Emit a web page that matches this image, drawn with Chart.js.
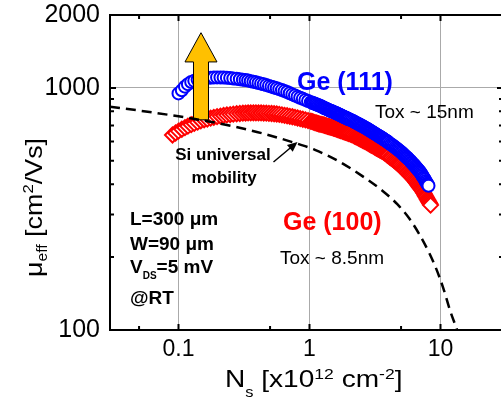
<!DOCTYPE html>
<html>
<head>
<meta charset="utf-8">
<script src="https://cdn.jsdelivr.net/npm/chart.js@4.4.1/dist/chart.umd.min.js"></script>
<style>
  html, body { margin: 0; padding: 0; background: #fff; overflow: hidden; }
  canvas { display: block; }
</style>
</head>
<body>
<canvas id="mob" width="520" height="401"></canvas>
<script>
// --- DATA ---
// sheet carrier density grid shared by both Ge sweeps [x10^12 cm^-2]
const ns = [
  0.090, 0.095, 0.100, 0.106, 0.112, 0.118, 0.125, 0.132, 0.140, 0.148, 0.157,
  0.166, 0.176, 0.186, 0.197, 0.209, 0.221, 0.234, 0.248, 0.262, 0.278, 0.294,
  0.310, 0.325, 0.340, 0.356, 0.373, 0.390, 0.408, 0.427, 0.447, 0.468, 0.490,
  0.513, 0.537, 0.562, 0.588, 0.616, 0.645, 0.675, 0.707, 0.740, 0.775, 0.811,
  0.849, 0.889, 0.931, 0.975,
  1.025, 1.05, 1.075, 1.10, 1.125, 1.15, 1.175, 1.20, 1.225, 1.25,
  1.275, 1.30, 1.325, 1.35, 1.375, 1.40, 1.425, 1.45, 1.475, 1.50,
  1.525, 1.55, 1.575, 1.60, 1.625, 1.65, 1.675, 1.70, 1.725, 1.75,
  1.775, 1.80, 1.825, 1.85, 1.875, 1.90, 1.925, 1.95, 1.975, 2.00,
  2.05, 2.10, 2.15, 2.20, 2.25, 2.30, 2.35, 2.40, 2.45, 2.50,
  2.55, 2.60, 2.65, 2.70, 2.75, 2.80, 2.85, 2.90, 2.95, 3.00,
  3.05, 3.10, 3.15, 3.20, 3.25, 3.30, 3.35, 3.40, 3.45, 3.50,
  3.55, 3.60, 3.65, 3.70, 3.75, 3.80, 3.85, 3.90, 3.95, 4.00,
  4.1, 4.2, 4.3, 4.4, 4.5, 4.6, 4.7, 4.8, 4.9, 5.0,
  5.1, 5.2, 5.3, 5.4, 5.5, 5.6, 5.7, 5.8, 5.9, 6.0,
  6.1, 6.2, 6.3, 6.4, 6.5, 6.6, 6.7, 6.8, 6.9, 7.0,
  7.1, 7.2, 7.3, 7.4, 7.5, 7.6, 7.7, 7.8, 7.9, 8.0,
  8.1, 8.2, 8.3, 8.4
];

// Ge (111), Tox ~ 15nm  [cm^2/Vs]
const mu111 = [
  null, null, 949, 977, 1012, 1036, 1057, 1069, 1080, 1089, 1094,
  1100, 1102, 1104, 1105, 1104, 1103, 1101, 1098, 1094, 1090, 1085,
  1081, 1077, 1072, 1066, 1060, 1054, 1047, 1041, 1034, 1027, 1019,
  1012, 1004, 996, 988, 979, 970, 961, 950, 940, 930, 920,
  910, 901, 892, 883,
  873, 868, 864, 859, 855, 851, 847, 843, 839, 835,
  830, 826, 822, 819, 815, 811, 807, 804, 801, 798,
  795, 792, 789, 786, 783, 780, 777, 774, 771, 768,
  765, 762, 760, 757, 754, 752, 749, 747, 744, 742,
  738, 734, 729, 724, 719, 715, 711, 706, 702, 698,
  694, 690, 686, 682, 678, 674, 670, 666, 662, 659,
  655, 651, 648, 644, 641, 638, 634, 631, 628, 625,
  622, 619, 616, 613, 610, 607, 605, 602, 599, 595,
  589, 584, 579, 574, 568, 563, 558, 553, 548, 543,
  538, 532, 527, 522, 517, 513, 508, 503, 499, 493,
  489, 484, 480, 475, 470, 466, 461, 457, 453, 448,
  443, 438, 433, 427, 423, 418, 412, 407, 402, 398,
  394, null, null, null
];

// Ge (100), Tox ~ 8.5nm  [cm^2/Vs]
const mu100 = [
  639, 651, 663, 675, 685, 695, 705, 713, 722, 731, 738,
  743, 750, 755, 761, 765, 769, 773, 776, 779, 782, 784,
  786, 787, 788, 788, 789, 789, 788, 788, 787, 786, 785,
  784, 782, 780, 777, 774, 770, 767, 763, 760, 755, 751,
  746, 742, 738, 733,
  728, 725, 722, 719, 716, 714, 711, 709, 707, 705,
  703, 701, 698, 697, 694, 692, 691, 689, 687, 685,
  683, 681, 679, 677, 675, 673, 671, 669, 667, 666,
  664, 662, 660, 659, 657, 655, 653, 652, 650, 648,
  645, 641, 638, 633, 629, 626, 622, 618, 614, 611,
  607, 604, 601, 598, 594, 591, 588, 584, 581, 579,
  576, 573, 570, 567, 564, 562, 559, 557, 554, 552,
  550, 547, 545, 542, 539, 536, 534, 530, 527, 524,
  518, 513, 508, 503, 498, 493, 488, 484, 479, 474,
  469, 464, 459, 454, 449, 446, 441, 437, 433, 429,
  425, 420, 416, 412, 407, 403, 398, 394, 390, 386,
  382, 379, 375, 370, 366, 361, 357, 353, 348, 344,
  340, 336, 332, 328
];

// Si universal mobility curve
const siNs = [0.03, 0.05, 0.1, 0.17, 0.27, 0.45, 0.85, 1.1, 1.7, 2.5, 3.6, 4.7, 5.8, 7.0, 8.2, 9.2, 10.5, 11.8, 13.4];
const siMu = [836, 806, 763, 727, 691, 646, 583, 555, 495, 434, 376, 330, 288, 245, 208, 181, 149, 121, 100];

const xTicks = [0.1, 1, 10];
const xMinor = [0.05, 0.5, 5];
const yTicks = [100, 1000, 2000];
const yMinor = [200, 300, 400, 500, 600, 700, 800, 900];

// yellow "enhancement" arrow, in data units
const boost = { ns: 0.1485, tip: 1690, neck: 1280, tail: 738 };
// pointer from the Si label to the dashed curve
const pointer = { from: [0.531, 494], to: [0.81, 598] };

const FONT = '"Liberation Sans", Arial, Helvetica, sans-serif';
const BLUE = '#0000ff';
const RED = '#ff0000';

// --- UTILS ---
const pts = (xs, ys) => xs.map((x, i) => ({ x, y: ys[i] })).filter(p => p.y != null);

function drawRuns(ctx, x, y, runs, opts = {}) {
  ctx.save();
  ctx.translate(x, y);
  if (opts.rotate) ctx.rotate(opts.rotate);
  ctx.scale(opts.stretch || 1, 1);
  ctx.textBaseline = 'alphabetic';
  ctx.textAlign = 'left';
  const fontOf = r => (r.bold ? 'bold ' : '') + r.size + 'px ' + FONT;
  let total = 0;
  runs.forEach(r => { ctx.font = fontOf(r); total += ctx.measureText(r.t).width; });
  let cx = opts.align === 'center' ? -total / 2 : 0;
  runs.forEach(r => {
    ctx.font = fontOf(r);
    ctx.fillStyle = r.color || opts.color || '#000';
    ctx.fillText(r.t, cx, r.dy || 0);
    cx += ctx.measureText(r.t).width;
  });
  ctx.restore();
}

// keep the plot box fixed: no extra room asked for by tick labels
const fixBox = (s, w, h) => {
  if (w != null) s.width = w;
  if (h != null) s.height = h;
  s.paddingTop = s.paddingBottom = s.paddingLeft = s.paddingRight = 0;
};

// --- PLUGINS ---
const boostArrow = {
  id: 'boostArrow',
  beforeDatasetDraw(chart, args) {
    if (args.index !== 0) return; // goes right under the dashed Si line
    const { ctx, scales: { x, y } } = chart;
    const cx = x.getPixelForValue(boost.ns);
    const tip = y.getPixelForValue(boost.tip);
    const neck = y.getPixelForValue(boost.neck);
    const tail = y.getPixelForValue(boost.tail);
    const sw = 7.5, hw = 16;
    ctx.save();
    ctx.beginPath();
    ctx.moveTo(cx, tip);
    ctx.lineTo(cx + hw, neck);
    ctx.lineTo(cx + sw, neck);
    ctx.lineTo(cx + sw, tail);
    ctx.lineTo(cx - sw, tail);
    ctx.lineTo(cx - sw, neck);
    ctx.lineTo(cx - hw, neck);
    ctx.closePath();
    ctx.fillStyle = '#ffc000';
    ctx.fill();
    ctx.lineWidth = 1;
    ctx.strokeStyle = '#000';
    ctx.stroke();
    ctx.restore();
  }
};

const frame = {
  id: 'frame',
  afterDraw(chart) {
    const { ctx, chartArea: a, scales: { x, y } } = chart;
    ctx.save();
    ctx.strokeStyle = '#000';
    ctx.lineWidth = 2;
    ctx.strokeRect(a.left, a.top, a.right - a.left, a.bottom - a.top);

    // inward ticks on all four sides
    ctx.beginPath();
    const xt = (v, len) => {
      const p = x.getPixelForValue(v);
      ctx.moveTo(p, a.bottom); ctx.lineTo(p, a.bottom - len);
      ctx.moveTo(p, a.top); ctx.lineTo(p, a.top + len);
    };
    const yt = (v, len) => {
      const p = y.getPixelForValue(v);
      ctx.moveTo(a.left, p); ctx.lineTo(a.left + len, p);
      ctx.moveTo(a.right, p); ctx.lineTo(a.right - len, p);
    };
    xTicks.forEach(v => xt(v, 6));
    xMinor.forEach(v => xt(v, 4));
    yTicks.forEach(v => yt(v, 6));
    yMinor.forEach(v => yt(v, 4));
    ctx.stroke();

    // pointer arrow
    const fx = x.getPixelForValue(pointer.from[0]), fy = y.getPixelForValue(pointer.from[1]);
    const tx = x.getPixelForValue(pointer.to[0]), ty = y.getPixelForValue(pointer.to[1]);
    const ang = Math.atan2(ty - fy, tx - fx);
    ctx.lineWidth = 1.5;
    ctx.beginPath();
    ctx.moveTo(fx, fy);
    ctx.lineTo(tx - 6 * Math.cos(ang), ty - 6 * Math.sin(ang));
    ctx.stroke();
    ctx.beginPath();
    ctx.moveTo(tx, ty);
    ctx.lineTo(tx - 10 * Math.cos(ang) + 4.5 * Math.sin(ang), ty - 10 * Math.sin(ang) - 4.5 * Math.cos(ang));
    ctx.lineTo(tx - 10 * Math.cos(ang) - 4.5 * Math.sin(ang), ty - 10 * Math.sin(ang) + 4.5 * Math.cos(ang));
    ctx.closePath();
    ctx.fillStyle = '#000';
    ctx.fill();
    ctx.restore();

    // series labels
    drawRuns(ctx, 297, 90, [{ t: 'Ge (111)', size: 25, bold: true }], { color: BLUE });
    drawRuns(ctx, 375, 118, [{ t: 'Tox ~ 15nm', size: 19 }]);
    drawRuns(ctx, 283, 230, [{ t: 'Ge (100)', size: 25, bold: true }], { color: RED });
    drawRuns(ctx, 280, 264, [{ t: 'Tox ~ 8.5nm', size: 19 }]);
    drawRuns(ctx, 223, 160, [{ t: 'Si universal', size: 17, bold: true }], { align: 'center' });
    drawRuns(ctx, 224, 183, [{ t: 'mobility', size: 17, bold: true }], { align: 'center' });

    // device conditions
    drawRuns(ctx, 130, 225, [{ t: 'L=300 μm', size: 19, bold: true }]);
    drawRuns(ctx, 130, 250, [{ t: 'W=90 μm', size: 19, bold: true }]);
    drawRuns(ctx, 130, 273, [
      { t: 'V', size: 19, bold: true },
      { t: 'DS', size: 10, bold: true, dy: 6 },
      { t: '=5 mV', size: 19, bold: true }
    ]);
    drawRuns(ctx, 130, 304, [{ t: '@RT', size: 19, bold: true }]);

    // axis titles
    drawRuns(ctx, 225, 387, [
      { t: 'N', size: 24 },
      { t: 's', size: 14, dy: 10 },
      { t: ' [x10', size: 24 },
      { t: '12', size: 15, dy: -8 },
      { t: ' cm', size: 24 },
      { t: '-2', size: 15, dy: -8 },
      { t: ']', size: 24 }
    ], { stretch: 1.17 });
    drawRuns(ctx, 42, 277, [
      { t: 'μ', size: 24 },
      { t: 'eff', size: 14, dy: 5 },
      { t: ' [cm', size: 24 },
      { t: '2', size: 15, dy: -9 },
      { t: '/Vs]', size: 24 }
    ], { rotate: -Math.PI / 2, stretch: 1.12 });
  }
};

// --- CHART ---
new Chart(document.getElementById('mob'), {
  type: 'scatter',
  data: {
    datasets: [
      {
        label: 'Si universal mobility',
        data: pts(siNs, siMu),
        showLine: true,
        borderColor: '#000',
        borderWidth: 2.5,
        borderDash: [10, 6],
        pointRadius: 0,
        cubicInterpolationMode: 'monotone',
        clip: 0,
        order: 0
      },
      {
        label: 'Ge (111)',
        data: pts(ns, mu111),
        pointStyle: 'circle',
        pointRadius: 6,
        pointBorderWidth: 2,
        pointBorderColor: BLUE,
        pointBackgroundColor: '#fff',
        order: 1
      },
      {
        label: 'Ge (100)',
        data: pts(ns, mu100),
        pointStyle: 'rectRot',
        pointRadius: 7.5,
        pointBorderWidth: 2,
        pointBorderColor: RED,
        pointBackgroundColor: '#fff',
        order: 2
      }
    ]
  },
  options: {
    responsive: false,
    animation: false,
    devicePixelRatio: 1,
    layout: { padding: { top: 15, right: 17, left: 0, bottom: 0 } },
    plugins: { legend: { display: false }, tooltip: { enabled: false } },
    scales: {
      x: {
        type: 'logarithmic',
        min: 0.03,
        max: 30,
        afterBuildTicks: s => { s.ticks = xTicks.map(v => ({ value: v })); },
        afterFit: s => fixBox(s, null, 71),
        grid: { color: '#aaaaaa', lineWidth: 1, drawTicks: false },
        border: { display: false },
        ticks: {
          font: { family: FONT, size: 23 },
          color: '#000',
          padding: 6,
          maxRotation: 0,
          autoSkip: false,
          callback: v => String(v)
        }
      },
      y: {
        type: 'logarithmic',
        min: 100,
        max: 2000,
        afterBuildTicks: s => { s.ticks = yTicks.map(v => ({ value: v })); },
        afterFit: s => fixBox(s, 110, null),
        grid: { color: '#aaaaaa', lineWidth: 1, drawTicks: false },
        border: { display: false },
        ticks: {
          font: { family: FONT, size: 25 },
          color: '#000',
          padding: 10,
          autoSkip: false,
          callback: v => String(v)
        }
      }
    }
  },
  plugins: [boostArrow, frame]
});
</script>
</body>
</html>
